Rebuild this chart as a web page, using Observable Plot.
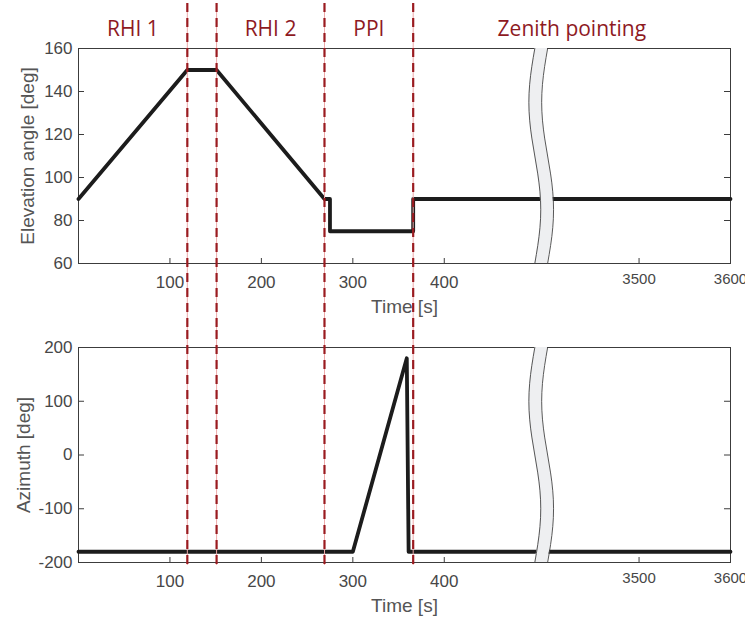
<!DOCTYPE html>
<html>
<head>
<meta charset="utf-8">
<script src="https://cdn.jsdelivr.net/npm/d3@7"></script>
<script src="https://cdn.jsdelivr.net/npm/@observablehq/plot@0.6"></script>
<style>
  html, body { margin: 0; padding: 0; background: #fff; }
  #chart svg { display: block; }
</style>
</head>
<body>
<div id="chart"></div>
<script>
// ---- data ----
const phaseNames = ["RHI 1", "RHI 2", "PPI", "Zenith pointing"];
const phaseStart = [0, 151, 269, 366];
const phaseEnd = [119, 269, 366, 3600];
const dividers = [119, 151, 269, 366];

const elevTime = [0, 119, 151, 269, 275, 275, 366, 366, 3600];
const elevVal  = [90, 150, 150, 90, 90, 75, 75, 90, 90];

const aziTime = [0, 300, 359, 361, 3600];
const aziVal  = [-180, -180, 180, -180, -180];

const xTicksLeft = [100, 200, 300, 400];
const xTicksRight = [3500, 3600];
const elevTicks = [60, 80, 100, 120, 140, 160];
const aziTicks = [-200, -100, 0, 100, 200];

// ---- broken time axis: 0..506 s then 3393..3600 s ----
const breakLeft = 506, breakRight = 3393;
const gap = breakRight - breakLeft;
const mapT = t => (t <= breakLeft ? t : t - gap);
const xDomain = [0, mapT(3600)];

// layout
const W = 745, ML = 78, MR = 15;
const frameW = W - ML - MR;
const frameH = 215;

const tickColor = "#474747";
const sansTick = "Liberation Sans, Arial, Helvetica, sans-serif";
const red = "#9a1b20";

function breakBand(ymin, ymax) {
  const n = 12, amp = 6.5, half = 7;
  const pts = [];
  for (let i = 0; i <= n; i++) {
    const s = i / n;
    const c = breakLeft - amp * Math.sin(2 * Math.PI * s);
    pts.push({y: ymax - s * (ymax - ymin), x1: c - half, x2: c + half});
  }
  return pts;
}

function panel({height, mt, mb, yDomain, yTicks, yLabel, yLabelDx, times, vals, rTop, rBottom, withHeader}) {
  const series = times.map((t, i) => ({x: mapT(t), y: vals[i]}));
  const band = breakBand(yDomain[0], yDomain[1]);
  const inner = yTicks.filter(v => v !== yDomain[0] && v !== yDomain[1]);
  const marks = [
    Plot.frame({stroke: "#3c3c3c", strokeWidth: 1}),
    // inward ticks
    Plot.ruleY(inner, {y: d => d, stroke: "#3c3c3c", insetRight: frameW - 6}),
    Plot.ruleY(inner, {y: d => d, stroke: "#3c3c3c", insetLeft: frameW - 6}),
    Plot.ruleX([...xTicksLeft, 3500], {x: mapT, stroke: "#3c3c3c", insetTop: frameH - 5}),
    // y tick labels
    Plot.text(yTicks, {y: d => d, text: d => String(d), frameAnchor: "left", textAnchor: "end", dx: -6,
      fontSize: 17, fill: tickColor, fontFamily: sansTick}),
    // x tick labels
    Plot.text(xTicksLeft, {x: mapT, text: d => String(d), frameAnchor: "bottom", lineAnchor: "middle", dy: 19,
      fontSize: 17, fill: tickColor, fontFamily: sansTick}),
    Plot.text(xTicksRight, {x: mapT, text: d => String(d), frameAnchor: "bottom", lineAnchor: "middle", dy: 16,
      fontSize: 15, fill: tickColor, fontFamily: sansTick}),
    // axis labels
    Plot.text(["Time [s]"], {frameAnchor: "bottom", lineAnchor: "middle", dy: 43, fontSize: 19, fill: "#555", fontFamily: sansTick}),
    Plot.text([yLabel], {frameAnchor: "left", textAnchor: "middle", lineAnchor: "middle", rotate: -90, dx: yLabelDx,
      fontSize: 19, fill: "#555", fontFamily: sansTick}),
    // data line
    Plot.line(series, {x: "x", y: "y", stroke: "#1c1c1c", strokeWidth: 3.8}),
    // axis break band
    Plot.areaX(band, {y: "y", x1: "x1", x2: "x2", fill: "#eeeff1", curve: "natural"}),
    Plot.lineX(band, {x: "x1", y: "y", stroke: "#444", strokeWidth: 0.9, curve: "natural"}),
    Plot.lineX(band, {x: "x2", y: "y", stroke: "#444", strokeWidth: 0.9, curve: "natural"}),
    // phase dividers
    Plot.ruleX(dividers, {x: mapT, stroke: "#eeaaaa", strokeWidth: 1, insetTop: rTop, insetBottom: rBottom}),
    Plot.ruleX(dividers, {x: mapT, stroke: red, strokeWidth: 2.2, strokeDasharray: "9,6", insetTop: rTop, insetBottom: rBottom})
  ];
  if (withHeader) {
    marks.push(Plot.text(phaseNames, {
      x: (d, i) => (mapT(phaseStart[i]) + mapT(phaseEnd[i])) / 2,
      text: d => d, frameAnchor: "top", lineAnchor: "middle", dy: -19,
      fontSize: 21, fill: "#8e1a1f", fontFamily: "Open Sans, Noto Sans, sans-serif"
    }));
  }
  return Plot.plot({
    width: W, height,
    marginLeft: ML, marginRight: MR, marginTop: mt, marginBottom: mb,
    x: {domain: xDomain, axis: null},
    y: {domain: yDomain, axis: null},
    style: {background: "#fff", overflow: "visible"},
    marks
  });
}

const topPanel = panel({
  height: 330, mt: 48, mb: 67, yDomain: [60, 160], yTicks: elevTicks,
  yLabel: "Elevation angle [deg]", yLabelDx: -51,
  times: elevTime, vals: elevVal, rTop: -45, rBottom: -67, withHeader: true
});
const bottomPanel = panel({
  height: 291, mt: 17, mb: 59, yDomain: [-200, 200], yTicks: aziTicks,
  yLabel: "Azimuth [deg]", yLabelDx: -55,
  times: aziTime, vals: aziVal, rTop: -17, rBottom: -3, withHeader: false
});
const el = document.getElementById("chart");
el.appendChild(topPanel);
el.appendChild(bottomPanel);
</script>
</body>
</html>
